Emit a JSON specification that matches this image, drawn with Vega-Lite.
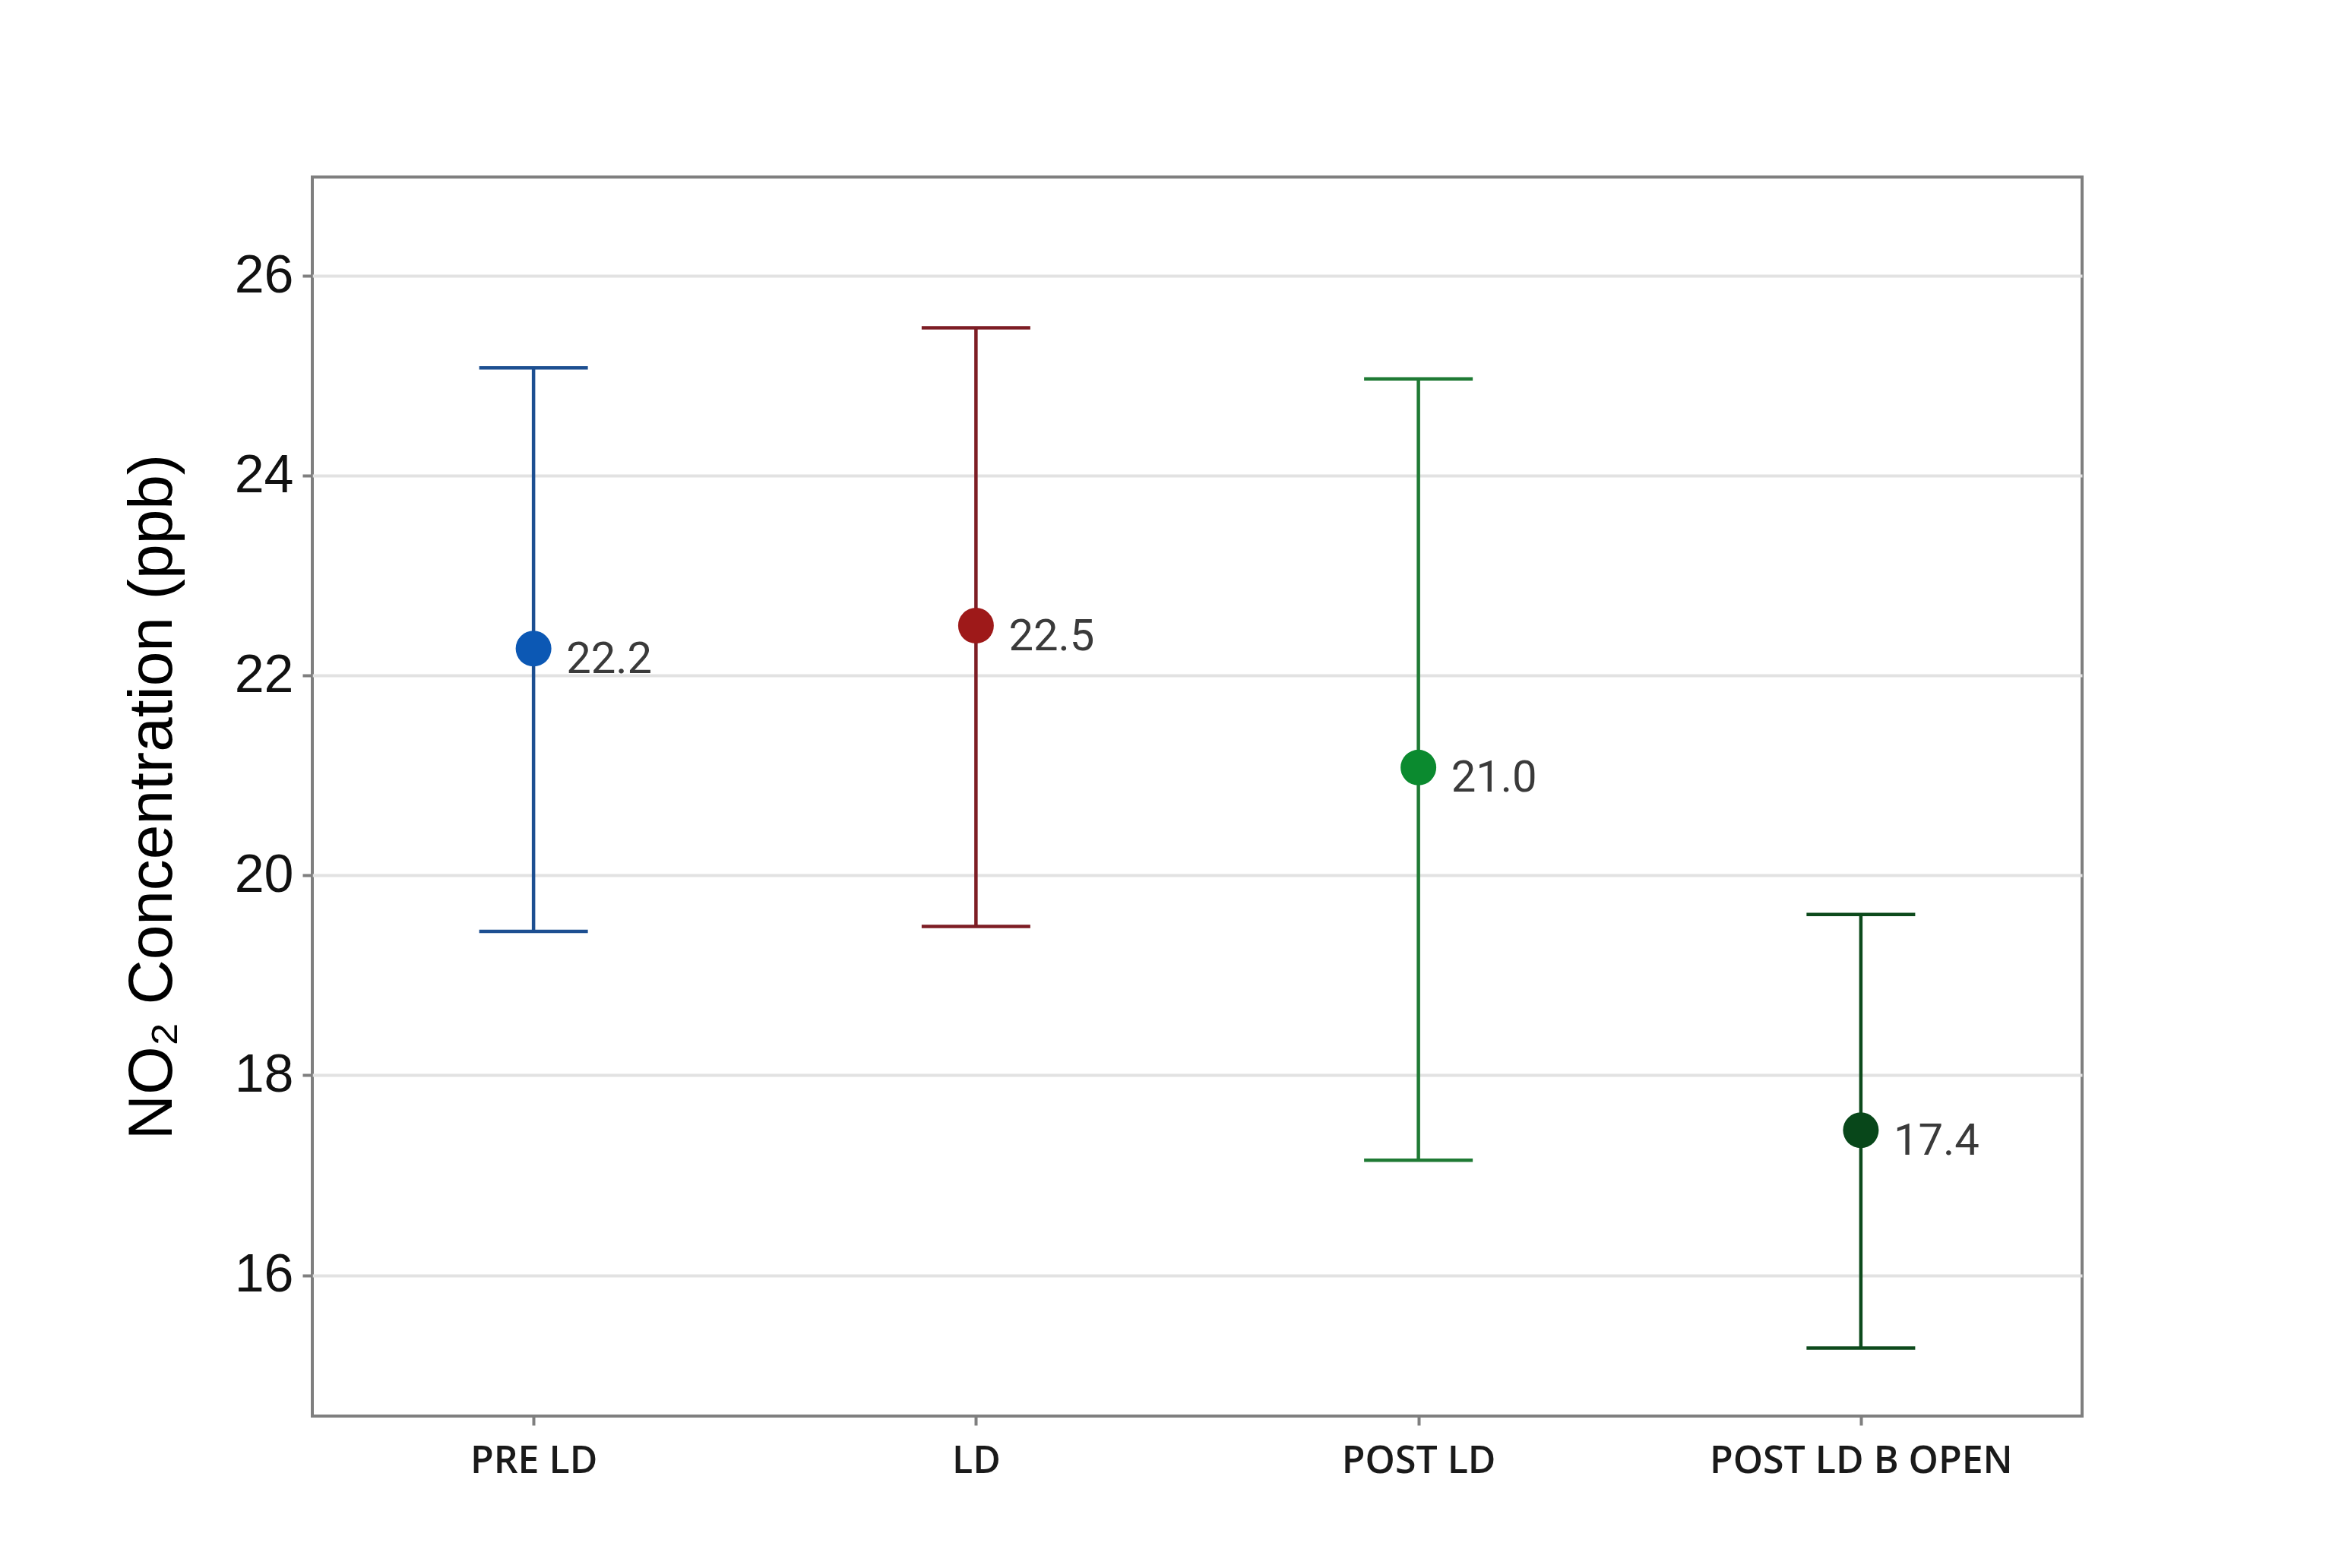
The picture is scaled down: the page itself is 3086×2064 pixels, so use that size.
{
  "$schema": "https://vega.github.io/schema/vega-lite/v6.json",
  "width": 2329,
  "height": 1631,
  "autosize": {"type": "none"},
  "padding": {"left": 411, "top": 233, "right": 346, "bottom": 200},
  "background": "white",
  "data": {
    "values": [
      {"period": "PRE LD", "mean": 22.27, "lower": 19.44, "upper": 25.08, "label": "22.2"},
      {"period": "LD", "mean": 22.5, "lower": 19.49, "upper": 25.48, "label": "22.5"},
      {"period": "POST LD", "mean": 21.08, "lower": 17.15, "upper": 24.97, "label": "21.0"},
      {"period": "POST LD B OPEN", "mean": 17.45, "lower": 15.27, "upper": 19.61, "label": "17.4"}
    ]
  },
  "encoding": {
    "x": {
      "field": "period",
      "type": "nominal",
      "sort": null,
      "scale": {"type": "point", "padding": 0.5},
      "axis": {
        "title": null,
        "labelAngle": 0,
        "labelLimit": 0,
        "labelFont": "Open Sans",
        "labelFontSize": 50,
        "labelFontWeight": 600,
        "labelColor": "#1a1a1a",
        "labelPadding": 22,
        "tickSize": 12,
        "tickWidth": 4,
        "tickColor": "#7f7f7f",
        "domain": false,
        "grid": false
      }
    }
  },
  "layer": [
    {
      "mark": {"type": "rule", "strokeWidth": 4.5, "opacity": 1},
      "encoding": {
        "y": {
          "field": "lower",
          "type": "quantitative",
          "scale": {"domain": [14.59, 26.99], "nice": false, "zero": false},
          "axis": {
            "title": "NO₂ Concentration (ppb)",
            "titleFont": "Liberation Sans",
            "titleFontSize": 82,
            "titleFontWeight": "normal",
            "titleColor": "#000000",
            "titlePadding": 66,
            "values": [16, 18, 20, 22, 24, 26],
            "format": "d",
            "labelFont": "Liberation Sans",
            "labelFontSize": 70,
            "labelColor": "#111111",
            "labelPadding": 12,
            "tickSize": 13,
            "tickWidth": 4,
            "tickColor": "#7f7f7f",
            "domain": false,
            "grid": true,
            "gridColor": "#e2e2e2",
            "gridWidth": 4
          }
        },
        "y2": {"field": "upper"},
        "color": {
          "field": "period",
          "type": "nominal",
          "scale": {
            "domain": ["PRE LD", "LD", "POST LD", "POST LD B OPEN"],
            "range": ["#1d4f91", "#7d1d24", "#1f7a34", "#0d4a1c"]
          },
          "legend": null
        }
      }
    },
    {
      "mark": {"type": "tick", "size": 143, "thickness": 4.5, "opacity": 1},
      "encoding": {
        "y": {"field": "upper", "type": "quantitative"},
        "color": {"field": "period", "type": "nominal", "legend": null}
      }
    },
    {
      "mark": {"type": "tick", "size": 143, "thickness": 4.5, "opacity": 1},
      "encoding": {
        "y": {"field": "lower", "type": "quantitative"},
        "color": {"field": "period", "type": "nominal", "legend": null}
      }
    },
    {
      "mark": {"type": "point", "shape": "circle", "filled": true, "size": 2209, "opacity": 1, "strokeWidth": 0},
      "encoding": {
        "y": {"field": "mean", "type": "quantitative"},
        "fill": {
          "field": "period",
          "type": "nominal",
          "scale": {
            "domain": ["PRE LD", "LD", "POST LD", "POST LD B OPEN"],
            "range": ["#0c58b4", "#9e1919", "#0b8a2f", "#08471a"]
          },
          "legend": null
        }
      }
    },
    {
      "mark": {"type": "text", "align": "left", "baseline": "alphabetic", "dx": 43, "dy": 32, "font": "Roboto", "fontSize": 58, "color": "#3a3a3a"},
      "encoding": {
        "y": {"field": "mean", "type": "quantitative"},
        "text": {"field": "label", "type": "nominal"}
      }
    }
  ],
  "config": {
    "view": {"stroke": "#7f7f7f", "strokeWidth": 4}
  }
}
